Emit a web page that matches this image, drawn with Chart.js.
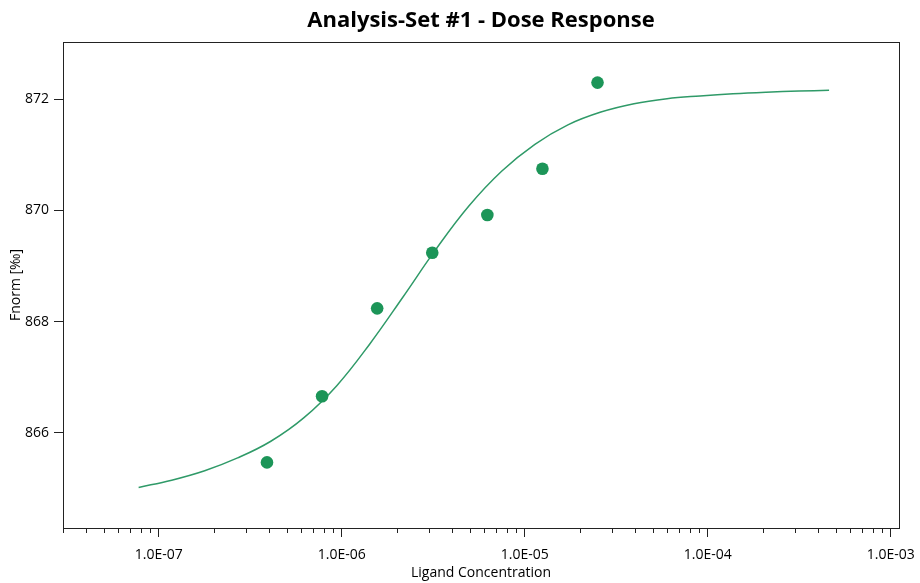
<!DOCTYPE html>
<html>
<head>
<meta charset="utf-8">
<script src="https://cdn.jsdelivr.net/npm/chart.js@4"></script>
<style>
    html, body { margin: 0; padding: 0; background: #fff; }
    #wrap { width: 920px; height: 583px; }
</style>
</head>
<body>
<div id="wrap"><canvas id="myChart"></canvas></div>
<script>
// measured points (ligand concentration in M, Fnorm in ‰)
const concentrations = [3.906e-7, 7.8125e-7, 1.5625e-6, 3.125e-6, 6.25e-6, 1.25e-5, 2.5e-5];
const fnorm = [865.47, 866.66, 868.24, 869.24, 869.92, 870.75, 872.30];

// fit curve
const fitX = [7.77e-8, 1.178e-7, 1.784e-7, 2.70e-7, 4.10e-7, 6.20e-7, 9.40e-7, 1.424e-6,
    2.158e-6, 3.269e-6, 4.953e-6, 7.504e-6, 1.137e-5, 1.722e-5, 2.609e-5, 3.955e-5,
    5.992e-5, 9.08e-5, 1.375e-4, 2.084e-4, 3.157e-4, 4.605e-4];
const fitY = [865.02, 865.15, 865.32, 865.55, 865.85, 866.27, 866.85, 867.60,
    868.44, 869.30, 870.08, 870.71, 871.19, 871.54, 871.77, 871.92,
    872.01, 872.06, 872.10, 872.128, 872.148, 872.162];

// axes
const xMin = 3.0e-8, xMax = 1.11e-3;
const yMin = 864.29, yMax = 873.03;
const xMajorTicks = [1e-8, 1e-7, 1e-6, 1e-5, 1e-4, 1e-3];
const yTicks = [866, 868, 870, 872];

const chartTitle = "Analysis-Set #1 - Dose Response";
const FONT = "'Open Sans', 'Noto Sans', sans-serif";

let xTickList = [];
xMajorTicks.forEach(d => {
    for (let m = 1; m <= 9; m++) {
        const v = +(m * d).toPrecision(3);
        if (v >= xMin && v <= xMax) xTickList.push({ value: v, major: m === 1 });
    }
});

let fmtExp = (v) => {
    const e = Math.round(Math.log10(v));
    return "1.0E" + (e < 0 ? "-" : "+") + String(Math.abs(e)).padStart(2, "0");
};

const frame = {
    id: "frame",
    afterDraw(chart) {
        const { ctx, chartArea: a, scales } = chart;
        ctx.save();
        ctx.strokeStyle = "#222";
        ctx.lineWidth = 1;
        ctx.strokeRect(a.left + 0.5, a.top + 0.5, a.right - a.left, a.bottom - a.top);
        // short minor ticks on the log axis
        ctx.beginPath();
        scales.x.ticks.forEach(t => {
            if (t.major) return;
            const x = Math.round(scales.x.getPixelForValue(t.value)) + 0.5;
            ctx.moveTo(x, a.bottom);
            ctx.lineTo(x, a.bottom + 5);
        });
        ctx.stroke();
        // title centred over the plot area
        ctx.fillStyle = "#000";
        ctx.font = "bold 22px " + FONT;
        ctx.textAlign = "center";
        ctx.textBaseline = "middle";
        ctx.fillText(chartTitle, (a.left + a.right) / 2, 21);
        ctx.restore();
    }
};

const ctx = document.getElementById("myChart");

new Chart(ctx, {
    type: "scatter",
    data: {
        datasets: [
            {
                label: "Fit",
                type: "line",
                data: fitX.map((x, i) => ({ x: x, y: fitY[i] })),
                borderColor: "#2f9a68",
                borderWidth: 1.5,
                pointRadius: 0,
                fill: false,
                tension: 0.4,
                order: 2
            },
            {
                label: "Data",
                data: concentrations.map((x, i) => ({ x: x, y: fnorm[i] })),
                backgroundColor: "#1c9558",
                borderColor: "#1c9558",
                pointRadius: 6.3,
                pointBorderWidth: 0,
                order: 1
            }
        ]
    },
    options: {
        responsive: true,
        maintainAspectRatio: false,
        animation: false,
        layout: { padding: { right: 21, left: 0, top: 42, bottom: 0 } },
        plugins: {
            legend: { display: false },
            tooltip: { enabled: false },
            title: { display: false }
        },
        scales: {
            x: {
                type: "logarithmic",
                min: xMin,
                max: xMax,
                afterBuildTicks: (scale) => { scale.ticks = xTickList.map(t => ({ ...t })); },
                afterFit: (scale) => {
                    scale.height = 55;
                    scale.paddingLeft = 0;
                    scale.paddingRight = 0;
                },
                border: { display: true, color: "#222", width: 1 },
                grid: {
                    drawOnChartArea: false,
                    drawTicks: true,
                    tickLength: 9,
                    color: (c) => (c.tick && c.tick.major ? "#222" : "rgba(0,0,0,0)")
                },
                ticks: {
                    autoSkip: false,
                    maxRotation: 0,
                    padding: 10,
                    color: "#000",
                    font: { family: FONT, size: 14 },
                    callback: (value, index, ticks) => (ticks[index].major ? fmtExp(value) : "")
                },
                title: {
                    display: true,
                    text: "Ligand Concentration",
                    color: "#000",
                    font: { family: FONT, size: 14 },
                    padding: { top: 0, bottom: 2 }
                }
            },
            y: {
                min: yMin,
                max: yMax,
                afterBuildTicks: (scale) => { scale.ticks = yTicks.map(v => ({ value: v })); },
                afterFit: (scale) => {
                    scale.width = 63;
                    scale.paddingTop = 0;
                    scale.paddingBottom = 0;
                },
                border: { display: true, color: "#222", width: 1 },
                grid: {
                    drawOnChartArea: false,
                    drawTicks: true,
                    tickLength: 9,
                    color: "#222"
                },
                ticks: {
                    padding: 5,
                    color: "#000",
                    font: { family: FONT, size: 14 }
                },
                title: {
                    display: true,
                    text: "Fnorm [‰]",
                    color: "#000",
                    font: { family: FONT, size: 14 },
                    padding: { top: 8, bottom: 0 }
                }
            }
        }
    },
    plugins: [frame]
});
</script>
</body>
</html>
